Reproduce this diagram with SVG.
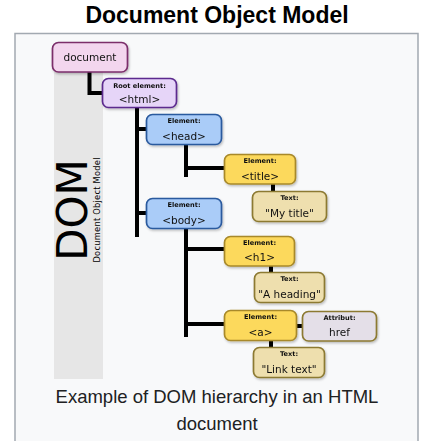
<svg xmlns="http://www.w3.org/2000/svg" width="425" height="441" viewBox="0 0 425 441">
<style>
.box{stroke-width:1.7}
.doc{fill:#f3d6ee;stroke:#7b2f6b}
.root{fill:#e6d5f8;stroke:#5b2a8e}
.blue{fill:#aaccf8;stroke:#2a5a9e}
.yel{fill:#fcd95c;stroke:#a8892a}
.tan{fill:#eedfae;stroke:#8c7a32}
.attr{fill:#e4dfe8;stroke:#8c7a32}
.sm{font-family:"DejaVu Sans",sans-serif;font-size:6.6px;font-weight:bold;fill:#111;text-anchor:middle}
.lb{font-family:"DejaVu Sans",sans-serif;font-size:10.5px;fill:#111;text-anchor:middle}
.cap{font-family:"Liberation Sans",Arial,sans-serif;font-size:18.5px;fill:#202122;text-anchor:middle}
.conn{stroke:#000;stroke-width:4;fill:none}
</style>
<defs>
<filter id="sh" x="-10%" y="-10%" width="130%" height="140%">
<feDropShadow dx="1" dy="1.5" stdDeviation="1" flood-color="#000" flood-opacity="0.25"/>
</filter>
</defs>
<rect width="425" height="441" fill="#ffffff"/>
<text x="217" y="22.5" font-family="Liberation Sans,Arial,sans-serif" font-size="23" font-weight="bold" text-anchor="middle" fill="#000">Document Object Model</text>
<rect x="15" y="33.5" width="403" height="420" fill="#f8f9fa" stroke="#a2a9b1" stroke-width="1.5"/>
<rect x="54" y="60" width="49" height="319" fill="#e6e6e6"/>
<text transform="translate(86.5,210) rotate(-90)" font-family="DejaVu Sans,sans-serif" font-size="42" text-anchor="middle" fill="#000">DOM</text>
<text transform="translate(99.5,210) rotate(-90)" font-family="DejaVu Sans,sans-serif" font-size="8.3" text-anchor="middle" fill="#000" textLength="105" lengthAdjust="spacing">Document Object Model</text>
<g id="connectors">
<path class="conn" d="M89.5 72 V93 H103"/>
<path class="conn" d="M137 108 V237 M137 129 H147 M137 213 H147"/>
<path class="conn" d="M186 145 V177 M186 168 H225"/>
<path class="conn" d="M186 229 V337 M186 249 H225 M186 324 H225"/>
<path class="conn" d="M273 184 V192 M271 266 V273 M271 341 V348 M297 326 H303"/>
</g>
<g id="document" filter="url(#sh)"><rect class="box doc" x="52.5" y="42.5" width="75" height="29.5" rx="6"/><text class="lb" x="90" y="61" font-size="10.8">document</text></g>
<g id="html" filter="url(#sh)"><rect class="box root" x="102.5" y="78.5" width="74" height="29" rx="6"/><text class="sm" x="139.5" y="87.5" font-size="6">Root element:</text><text class="lb" x="139.5" y="103">&lt;html&gt;</text></g>
<g id="head" filter="url(#sh)"><rect class="box blue" x="146.5" y="114.5" width="75" height="30" rx="6"/><text class="sm" x="184" y="123">Element:</text><text class="lb" x="184" y="140">&lt;head&gt;</text></g>
<g id="body" filter="url(#sh)"><rect class="box blue" x="146.5" y="198.5" width="75" height="30" rx="6"/><text class="sm" x="184" y="207">Element:</text><text class="lb" x="184" y="224">&lt;body&gt;</text></g>
<g id="title" filter="url(#sh)"><rect class="box yel" x="224.5" y="154.5" width="71" height="29.5" rx="6"/><text class="sm" x="260" y="163">Element:</text><text class="lb" x="260" y="180">&lt;title&gt;</text></g>
<g id="text-title" filter="url(#sh)"><rect class="box tan" x="252.5" y="191.5" width="74" height="30" rx="6"/><text class="sm" x="289.5" y="200">Text:</text><text class="lb" x="289.5" y="216.5">"My title"</text></g>
<g id="h1" filter="url(#sh)"><rect class="box yel" x="224.5" y="236.5" width="70" height="29.5" rx="6"/><text class="sm" x="259.5" y="245">Element:</text><text class="lb" x="259.5" y="261">&lt;h1&gt;</text></g>
<g id="text-h1" filter="url(#sh)"><rect class="box tan" x="254.5" y="272.5" width="70" height="30" rx="6"/><text class="sm" x="289.5" y="281">Text:</text><text class="lb" x="289.5" y="298">"A heading"</text></g>
<g id="a" filter="url(#sh)"><rect class="box yel" x="224.5" y="310.5" width="72" height="30" rx="6"/><text class="sm" x="260.5" y="319">Element:</text><text class="lb" x="260.5" y="336">&lt;a&gt;</text></g>
<g id="href" filter="url(#sh)"><rect class="box attr" x="302.5" y="311.5" width="74" height="29.5" rx="6"/><text class="sm" x="339.5" y="320">Attribut:</text><text class="lb" x="339.5" y="336">href</text></g>
<g id="text-a" filter="url(#sh)"><rect class="box tan" x="253.5" y="347.5" width="71" height="30" rx="6"/><text class="sm" x="289" y="356">Text:</text><text class="lb" x="289" y="372.5">"Link text"</text></g>
<text class="cap" x="217" y="403">Example of DOM hierarchy in an HTML</text>
<text class="cap" x="217" y="430">document</text>
</svg>
